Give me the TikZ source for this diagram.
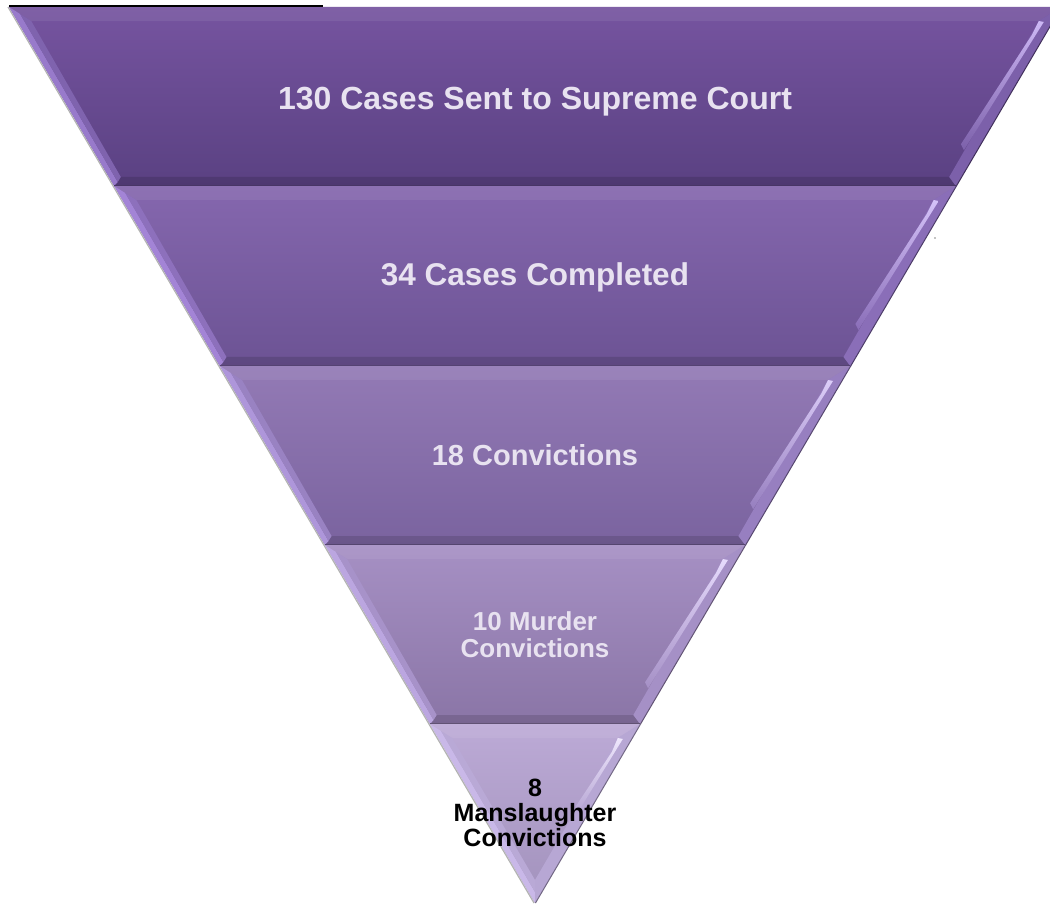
\documentclass[tikz,border=0pt]{standalone}
\usepackage{fontspec}
\setmainfont{Liberation Sans}
\definecolor{bAt}{HTML}{7654A0}\definecolor{bAb}{HTML}{5A4182}\definecolor{bAl}{HTML}{987ACB}\definecolor{bAh}{HTML}{CDB8F5}
\definecolor{bBt}{HTML}{8567AE}\definecolor{bBb}{HTML}{6C5394}\definecolor{bBl}{HTML}{A384D6}\definecolor{bBh}{HTML}{D4C2F8}
\definecolor{bCt}{HTML}{937AB5}\definecolor{bCb}{HTML}{7A639F}\definecolor{bCl}{HTML}{AE96DA}\definecolor{bCh}{HTML}{DCCDF8}
\definecolor{bDt}{HTML}{A690C4}\definecolor{bDb}{HTML}{8A75A6}\definecolor{bDl}{HTML}{BBA6E0}\definecolor{bDh}{HTML}{E6DAFC}
\definecolor{bEt}{HTML}{BCAAD6}\definecolor{bEb}{HTML}{A292BC}\definecolor{bEl}{HTML}{C9B8E8}\definecolor{bEh}{HTML}{EEE6FC}
\definecolor{lbltxt}{HTML}{E8E2F0}
\newcommand\pband[6]{%
\pgfmathsetmacro\yT{#1}\pgfmathsetmacro\yB{#2}%
\pgfmathsetmacro\aX{9+0.5871*(\yT-7)}%
\pgfmathsetmacro\bX{1061-0.5871*(\yT-7)}%
\pgfmathsetmacro\dX{9+0.5871*(\yB-7)}%
\pgfmathsetmacro\cX{1061-0.5871*(\yB-7)}%
\pgfmathsetmacro\iyT{\yT+14}%
\pgfmathsetmacro\iyB{\yB-9}%
\pgfmathsetmacro\iaX{9+0.5871*(\iyT-7)+14}%
\pgfmathsetmacro\ibX{1061-0.5871*(\iyT-7)-14}%
\pgfmathsetmacro\idX{9+0.5871*(\iyB-7)+12}%
\pgfmathsetmacro\icX{1061-0.5871*(\iyB-7)-12}%
\pgfmathsetmacro\maX{9+0.5871*(\yT+7-7)+7}%
\pgfmathsetmacro\mdX{9+0.5871*(\yB-4-7)+6}%
\pgfmathsetmacro\hyB{\yT+0.8*(\yB-\yT)}%
\pgfmathsetmacro\hxB{1061-0.5871*(\hyB-7)-13}%
\shade[top color=#3,bottom color=#4] (\aX,\yT)--(\bX,\yT)--(\cX,\yB)--(\dX,\yB)--cycle;
\fill[white,opacity=0.07] (\aX,\yT)--(\bX,\yT)--(\ibX,\iyT)--(\iaX,\iyT)--cycle;
\fill[black,opacity=0.13] (\dX,\yB)--(\cX,\yB)--(\icX,\iyB)--(\idX,\iyB)--cycle;
\fill[#5] (\aX,\yT)--(\maX,{\yT+7})--(\mdX,{\yB-4})--(\dX,\yB)--cycle;
\fill[#5!60!#4] (\maX,{\yT+7})--(\iaX,\iyT)--(\idX,\iyB)--(\mdX,{\yB-4})--cycle;
\fill[#5!55!#4] (\bX,\yT)--(\ibX,\iyT)--(\icX,\iyB)--(\cX,\yB)--cycle;
\shade[top color=#6,bottom color=#5!55!#4] (\ibX,\iyT)--({\ibX+5},{\iyT+1})--(\hxB,\hyB)--({\hxB-3},{\hyB-6})--({\ibX-7},{\iyT+14})--cycle;
\draw[black!30,line width=1.2] ({\aX-1},\yT)--({\dX-1},\yB);
\draw[#4!70!black,line width=1] ({\bX+0.5},\yT)--({\cX+0.5},\yB);
\draw[#4!70!black,line width=1.4] (\dX,\yB)--(\cX,\yB);
}
\begin{document}
\begin{tikzpicture}[x=1pt,y=-1pt,
  bandtext/.style={font=\bfseries, text=lbltxt, align=center, anchor=base, inner sep=0pt}]
\useasboundingbox (0,0) rectangle (1050,909);
\begin{scope}
\clip (0,0) rectangle (1050,909);
\pband{7}{186}{bAt}{bAb}{bAl}{bAh}
\pband{186}{366}{bBt}{bBb}{bBl}{bBh}
\pband{366}{545}{bCt}{bCb}{bCl}{bCh}
\pband{545}{724}{bDt}{bDb}{bDl}{bDh}
% bottom triangle
\coordinate (tA) at (429.9,724);
\coordinate (tB) at (640.1,724);
\coordinate (tC) at (535,903);
\coordinate (iA) at (452.2,738);
\coordinate (iB) at (617.8,738);
\coordinate (iC) at (535,880);
\coordinate (mA) at (441.0,731);
\coordinate (mC) at (535,892);
\shade[top color=bEt,bottom color=bEb] (tA)--(tB)--(tC)--cycle;
\fill[white,opacity=0.08] (tA)--(tB)--(iB)--(iA)--cycle;
\fill[bEl] (tA)--(mA)--(mC)--(tC)--cycle;
\fill[bEl!60!bEb] (mA)--(iA)--(iC)--(mC)--cycle;
\fill[bEl!55!bEb] (tB)--(iB)--(iC)--(tC)--cycle;
\shade[top color=bEh,bottom color=bEl!55!bEb] (iB)--(622.8,739)--(578,812)--(576,806)--(611.8,752)--cycle;
\draw[black!30,line width=1.2] (428.9,724)--(534,903);
\draw[bEb!70!black,line width=1] (640.6,724)--(535.5,903);
\end{scope}
\draw[black,line width=1.3] (9,6) -- (323,6);
\fill[black] (935,238) circle (0.7);
\node[bandtext, font=\bfseries\fontsize{32}{34}\selectfont] (l1) at (535,110) {130 Cases Sent to Supreme Court};
\node[bandtext, font=\bfseries\fontsize{31.5}{34}\selectfont] (l2) at (535,286) {34 Cases Completed};
\node[bandtext, font=\bfseries\fontsize{29}{31}\selectfont] (l3) at (535,465) {18 Convictions};
\node[bandtext, font=\bfseries\fontsize{26}{27}\selectfont] (l4) at (535,657) {10 Murder\\Convictions};
\node[bandtext, text=black, font=\bfseries\fontsize{25}{25}\selectfont] (l5) at (535,846) {8\\Manslaughter\\Convictions};
\end{tikzpicture}
\end{document}
